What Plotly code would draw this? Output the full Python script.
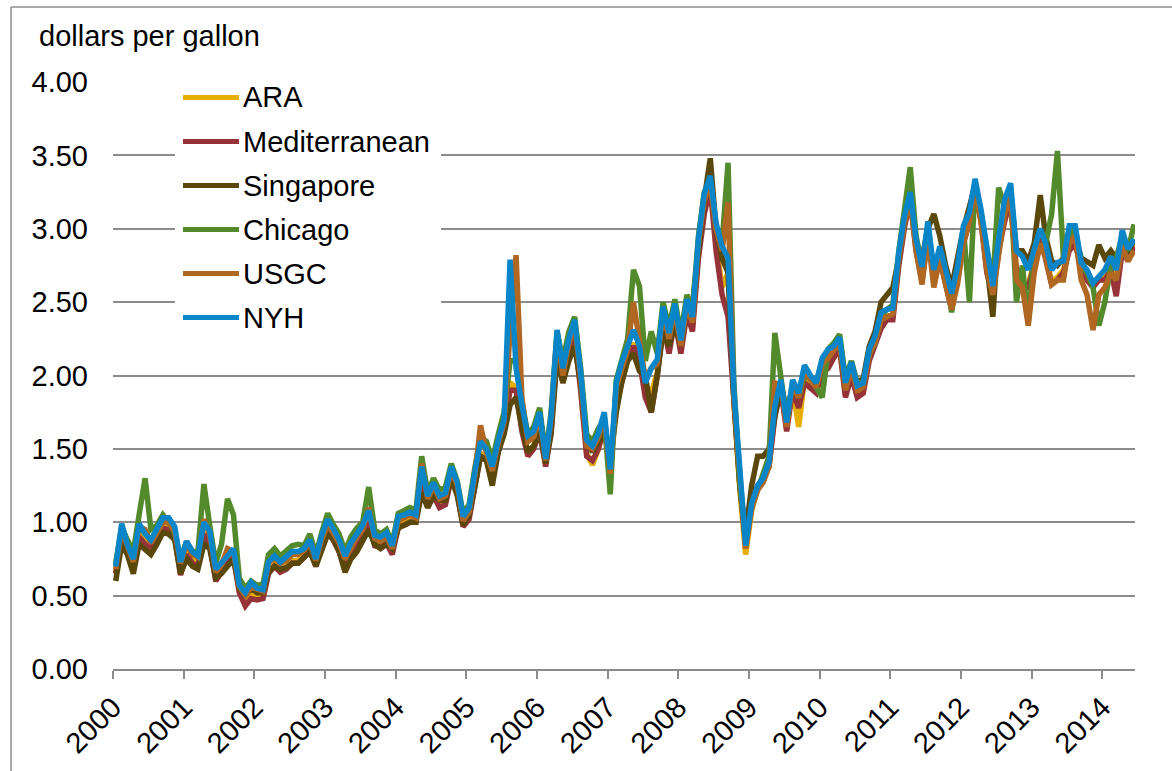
import pandas as pd
import plotly.graph_objects as go

# monthly readings, Jan 2000 - Jun 2014 (dollars per gallon)
months = pd.date_range("2000-01-01", periods=174, freq="MS") + pd.Timedelta(days=14)

ara = [
    0.66, 0.92, 0.82, 0.72, 0.93, 0.88, 0.84, 0.90, 0.98, 0.97, 0.92, 0.67,
    0.80, 0.74, 0.72, 0.95, 0.88, 0.62, 0.67, 0.74, 0.78, 0.54, 0.46, 0.52,
    0.50, 0.50, 0.68, 0.72, 0.68, 0.70, 0.74, 0.74, 0.78, 0.84, 0.72, 0.86,
    0.97, 0.90, 0.82, 0.70, 0.80, 0.86, 0.92, 1.02, 0.86, 0.85, 0.88, 0.80,
    0.99, 1.00, 1.02, 1.02, 1.30, 1.12, 1.20, 1.12, 1.14, 1.32, 1.22, 0.99,
    1.04, 1.27, 1.47, 1.44, 1.32, 1.50, 1.64, 1.95, 1.92, 1.65, 1.47, 1.52,
    1.64, 1.40, 1.64, 2.18, 1.98, 2.17, 2.27, 1.92, 1.47, 1.39, 1.50, 1.66,
    1.42, 1.82, 1.97, 2.14, 2.22, 2.12, 1.88, 1.88, 2.02, 2.37, 2.18, 2.40,
    2.18, 2.44, 2.33, 2.83, 3.18, 3.30, 2.90, 2.60, 2.70, 1.82, 1.22, 0.78,
    1.08, 1.23, 1.28, 1.38, 1.74, 1.92, 1.64, 1.92, 1.65, 1.97, 1.94, 1.90,
    2.04, 2.07, 2.14, 2.20, 1.87, 2.02, 1.88, 1.90, 2.12, 2.22, 2.34, 2.40,
    2.40, 2.77, 3.02, 3.22, 2.87, 2.67, 2.97, 2.67, 2.82, 2.64, 2.47, 2.67,
    2.92, 3.07, 3.27, 3.07, 2.72, 2.57, 2.87, 3.07, 3.22, 2.72, 2.62, 2.62,
    2.77, 2.97, 2.82, 2.64, 2.67, 2.72, 2.87, 2.92, 2.74, 2.67, 2.62, 2.67,
    2.67, 2.74, 2.62, 2.87, 2.80, 2.90,
]

mediterranean = [
    0.65, 0.90, 0.80, 0.70, 0.90, 0.85, 0.82, 0.88, 0.96, 0.95, 0.90, 0.64,
    0.78, 0.72, 0.70, 0.92, 0.85, 0.60, 0.66, 0.72, 0.76, 0.52, 0.43, 0.48,
    0.47, 0.48, 0.65, 0.70, 0.66, 0.68, 0.72, 0.72, 0.76, 0.82, 0.70, 0.85,
    0.95, 0.88, 0.80, 0.68, 0.78, 0.84, 0.90, 1.00, 0.84, 0.83, 0.86, 0.78,
    0.97, 0.98, 1.00, 1.00, 1.28, 1.10, 1.18, 1.10, 1.12, 1.30, 1.20, 0.97,
    1.02, 1.25, 1.45, 1.42, 1.30, 1.48, 1.62, 1.90, 1.90, 1.62, 1.45, 1.50,
    1.62, 1.38, 1.62, 2.15, 1.95, 2.15, 2.25, 1.90, 1.45, 1.42, 1.50, 1.65,
    1.40, 1.80, 1.95, 2.12, 2.20, 2.10, 1.85, 1.75, 2.00, 2.35, 2.15, 2.38,
    2.15, 2.42, 2.30, 2.80, 3.10, 3.28, 2.85, 2.55, 2.40, 1.80, 1.25, 0.85,
    1.10, 1.25, 1.30, 1.38, 1.72, 1.90, 1.62, 1.90, 1.78, 1.95, 1.92, 1.88,
    2.02, 2.05, 2.12, 2.18, 1.85, 2.00, 1.85, 1.88, 2.10, 2.20, 2.32, 2.38,
    2.38, 2.75, 3.00, 3.20, 2.85, 2.65, 2.95, 2.65, 2.80, 2.62, 2.45, 2.65,
    2.90, 3.05, 3.25, 3.05, 2.70, 2.55, 2.85, 3.05, 3.20, 2.70, 2.60, 2.60,
    2.75, 2.95, 2.80, 2.62, 2.65, 2.70, 2.85, 2.90, 2.72, 2.65, 2.60, 2.65,
    2.65, 2.72, 2.54, 2.85, 2.78, 2.88,
]

singapore = [
    0.60, 0.85, 0.78, 0.65, 0.85, 0.82, 0.78, 0.85, 0.93, 0.92, 0.88, 0.65,
    0.75, 0.70, 0.68, 0.85, 0.82, 0.62, 0.65, 0.70, 0.75, 0.55, 0.50, 0.55,
    0.52, 0.52, 0.66, 0.70, 0.68, 0.69, 0.72, 0.72, 0.76, 0.80, 0.70, 0.82,
    0.92, 0.88, 0.80, 0.66, 0.75, 0.80, 0.88, 0.95, 0.85, 0.82, 0.85, 0.82,
    0.96, 0.98, 1.00, 1.00, 1.20, 1.10, 1.18, 1.15, 1.15, 1.30, 1.18, 0.98,
    1.05, 1.25, 1.45, 1.42, 1.25, 1.48, 1.60, 1.80, 1.85, 1.65, 1.48, 1.52,
    1.62, 1.40, 1.60, 2.12, 1.95, 2.10, 2.20, 1.95, 1.55, 1.48, 1.55, 1.62,
    1.40, 1.75, 1.95, 2.10, 2.15, 2.03, 2.00, 1.75, 2.00, 2.30, 2.20, 2.35,
    2.20, 2.45, 2.48, 2.85, 3.20, 3.48, 3.00, 2.80, 2.70, 1.85, 1.25, 0.92,
    1.25, 1.45, 1.45, 1.50, 1.72, 1.95, 1.75, 1.92, 1.85, 2.00, 1.98, 1.95,
    2.10, 2.15, 2.18, 2.22, 1.92, 2.05, 1.95, 1.98, 2.20, 2.30, 2.50, 2.55,
    2.60, 2.80, 3.05, 3.20, 2.90, 2.80, 3.00, 3.10, 2.95, 2.75, 2.60, 2.80,
    3.00, 3.15, 3.30, 3.10, 2.75, 2.40, 3.00, 3.10, 3.25, 2.85, 2.85, 2.78,
    2.90, 3.23, 2.95, 2.78, 2.75, 2.80, 2.90, 2.95, 2.80, 2.78, 2.75, 2.89,
    2.80, 2.85, 2.80, 2.90, 2.85, 2.92,
]

chicago = [
    0.72, 0.97, 0.88, 0.80, 1.05, 1.30, 0.95, 0.98, 1.05, 1.00, 0.93, 0.75,
    0.87, 0.80, 0.80, 1.26, 0.98, 0.72, 0.85, 1.16, 1.05, 0.62, 0.55, 0.60,
    0.57, 0.58, 0.78, 0.82, 0.77, 0.80, 0.84, 0.85, 0.84, 0.92, 0.78, 0.93,
    1.06, 0.98, 0.92, 0.80, 0.90, 0.96, 1.00, 1.24, 0.95, 0.92, 0.95, 0.86,
    1.06, 1.08, 1.10, 1.08, 1.45, 1.20, 1.30, 1.22, 1.24, 1.40, 1.28, 1.06,
    1.12, 1.38, 1.58, 1.55, 1.42, 1.60, 1.75, 2.10, 2.10, 1.82, 1.60, 1.65,
    1.78, 1.45, 1.75, 2.30, 2.10, 2.30, 2.40, 2.05, 1.60, 1.55, 1.64, 1.70,
    1.19, 1.97, 2.10, 2.25, 2.72, 2.61, 2.10, 2.30, 2.15, 2.50, 2.33, 2.52,
    2.28, 2.55, 2.45, 2.95, 3.25, 3.33, 3.00, 2.90, 3.45, 1.95, 1.25, 0.88,
    1.10, 1.22, 1.35, 1.45, 2.29, 1.98, 1.70, 1.95, 1.85, 2.00, 1.98, 1.92,
    1.85, 2.18, 2.22, 2.28, 1.98, 2.10, 1.95, 1.95, 2.15, 2.22, 2.40, 2.45,
    2.48, 2.85, 3.10, 3.42, 2.95, 2.75, 3.02, 2.70, 2.85, 2.70, 2.43, 2.70,
    3.00, 2.50, 3.30, 3.10, 2.85, 2.62, 3.28, 3.15, 3.28, 2.50, 2.75, 2.36,
    2.85, 3.00, 2.90, 3.10, 3.53, 2.80, 2.95, 3.00, 2.75, 2.70, 2.60, 2.34,
    2.50, 2.75, 2.80, 2.95, 2.85, 3.03,
]

usgc = [
    0.68, 0.95, 0.84, 0.73, 0.97, 0.95, 0.86, 0.93, 1.00, 1.00, 0.94, 0.72,
    0.85, 0.78, 0.76, 1.02, 0.92, 0.66, 0.71, 0.82, 0.80, 0.56, 0.50, 0.56,
    0.54, 0.53, 0.72, 0.76, 0.72, 0.74, 0.78, 0.78, 0.81, 0.86, 0.74, 0.88,
    0.99, 0.93, 0.86, 0.75, 0.83, 0.90, 0.95, 1.10, 0.89, 0.87, 0.90, 0.82,
    1.01, 1.03, 1.05, 1.03, 1.40, 1.16, 1.25, 1.16, 1.18, 1.36, 1.25, 1.01,
    1.07, 1.33, 1.66, 1.47, 1.35, 1.54, 1.68, 2.30, 2.82, 1.85, 1.55, 1.58,
    1.72, 1.42, 1.70, 2.28, 2.00, 2.22, 2.35, 1.98, 1.52, 1.50, 1.58, 1.72,
    1.33, 1.92, 2.05, 2.18, 2.50, 2.25, 1.98, 2.05, 2.08, 2.44, 2.25, 2.45,
    2.20, 2.48, 2.36, 2.90, 3.20, 3.30, 3.00, 2.85, 3.18, 1.85, 1.28, 0.82,
    1.10, 1.22, 1.27, 1.38, 1.95, 1.94, 1.65, 1.94, 1.85, 2.03, 1.97, 1.92,
    2.08, 2.12, 2.17, 2.22, 1.90, 2.05, 1.90, 1.92, 2.14, 2.23, 2.38, 2.40,
    2.42, 2.80, 3.03, 3.20, 2.85, 2.62, 2.95, 2.60, 2.80, 2.62, 2.45, 2.62,
    2.90, 3.05, 3.28, 3.05, 2.72, 2.55, 2.85, 3.10, 3.22, 2.65, 2.60, 2.34,
    2.70, 2.90, 2.80, 2.62, 2.65, 2.65, 2.90, 2.95, 2.65, 2.55, 2.31, 2.55,
    2.60, 2.70, 2.65, 2.88, 2.78, 2.85,
]

nyh = [
    0.70, 0.99, 0.85, 0.75, 0.99, 0.92, 0.88, 0.95, 1.03, 1.03, 0.97, 0.73,
    0.87, 0.80, 0.77, 1.00, 0.94, 0.68, 0.72, 0.77, 0.82, 0.57, 0.52, 0.59,
    0.55, 0.54, 0.73, 0.77, 0.73, 0.76, 0.80, 0.80, 0.82, 0.88, 0.75, 0.91,
    1.02, 0.95, 0.88, 0.77, 0.86, 0.92, 0.98, 1.08, 0.91, 0.90, 0.93, 0.84,
    1.04, 1.05, 1.07, 1.05, 1.38, 1.18, 1.27, 1.18, 1.20, 1.38, 1.27, 1.04,
    1.10, 1.35, 1.55, 1.50, 1.38, 1.56, 1.70, 2.79, 2.05, 1.80, 1.59, 1.62,
    1.75, 1.43, 1.72, 2.31, 2.05, 2.25, 2.38, 2.02, 1.56, 1.52, 1.61, 1.75,
    1.36, 1.95, 2.09, 2.20, 2.31, 2.20, 1.95, 2.05, 2.11, 2.47, 2.29, 2.49,
    2.24, 2.52, 2.40, 2.93, 3.24, 3.36, 3.04, 2.88, 2.80, 1.90, 1.30, 0.84,
    1.13, 1.25, 1.30, 1.41, 1.79, 1.97, 1.68, 1.97, 1.88, 2.07, 2.00, 1.95,
    2.12, 2.18, 2.20, 2.26, 1.95, 2.09, 1.93, 1.95, 2.18, 2.27, 2.43, 2.45,
    2.46, 2.84, 3.08, 3.25, 2.93, 2.74, 3.05, 2.72, 2.88, 2.72, 2.56, 2.74,
    3.02, 3.11, 3.34, 3.13, 2.85, 2.61, 2.93, 3.20, 3.31, 2.85, 2.81, 2.72,
    2.86, 3.00, 2.90, 2.72, 2.77, 2.78, 3.02, 3.02, 2.77, 2.72, 2.63, 2.68,
    2.72, 2.81, 2.72, 2.99, 2.86, 2.93,
]

names = ["ARA", "Mediterranean", "Singapore", "Chicago", "USGC", "NYH"]
values = [ara, mediterranean, singapore, chicago, usgc, nyh]
colors = ["#E6AE00", "#953339", "#5A470B", "#528A2C", "#AF6722", "#0A85C7"]
year_labels = [str(y) for y in range(2000, 2015)]

# plot area in pixels: x 113..1135, y 82..669
L, R, T, B = 113, 1135, 82, 669
def px(x):
    return (x - L) / (R - L)
def py(y):
    return (B - y) / (B - T)

font = "Liberation Sans, Arial, sans-serif"
fig = go.Figure()
for name, vals, col in zip(names, values, colors):
    fig.add_trace(go.Scatter(x=months, y=vals, mode="lines", name=name,
                             line=dict(color=col, width=5.5), showlegend=False))

shapes = []
annotations = []
# legend drawn by hand (white box hides gridlines)
shapes.append(dict(type="rect", xref="paper", yref="paper", layer="above",
                   x0=px(175), x1=px(441), y0=py(335), y1=py(78),
                   fillcolor="white", line=dict(width=0)))
for k, (name, col) in enumerate(zip(names, colors)):
    yy = 97.5 + k * 44
    shapes.append(dict(type="line", xref="paper", yref="paper", layer="above",
                       x0=px(183), x1=px(239), y0=py(yy), y1=py(yy),
                       line=dict(color=col, width=5)))
    annotations.append(dict(xref="paper", yref="paper", x=px(241), y=py(yy),
                            text=name, showarrow=False, xanchor="left",
                            yanchor="middle", font=dict(size=29, color="black")))

# outer chart frame (left + top visible)
shapes.append(dict(type="line", xref="paper", yref="paper", x0=px(11), x1=px(11),
                   y0=py(7), y1=py(800), line=dict(color="#8c8c8c", width=1.5)))
shapes.append(dict(type="line", xref="paper", yref="paper", x0=px(11), x1=px(1200),
                   y0=py(7), y1=py(7), line=dict(color="#8c8c8c", width=1.5)))

annotations.append(dict(xref="paper", yref="paper", x=px(37), y=py(36),
                        text="dollars per gallon", showarrow=False, xanchor="left",
                        yanchor="middle", font=dict(size=29, color="black")))

fig.update_layout(
    width=1172, height=771,
    margin=dict(l=L, r=1172 - R, t=T, b=771 - B),
    paper_bgcolor="white", plot_bgcolor="white",
    font=dict(family=font, size=29, color="black"),
    shapes=shapes, annotations=annotations,
    xaxis=dict(type="date", range=["2000-01-01", "2014-06-20"],
               tickvals=[f"{y}-01-01" for y in year_labels], ticktext=year_labels,
               tickangle=-45, ticks="outside", ticklen=8, tickwidth=1.5,
               tickcolor="#8c8c8c", showline=True, linecolor="#8c8c8c",
               linewidth=1.5, showgrid=False, zeroline=False, automargin=False,
               tickfont=dict(size=29)),
    yaxis=dict(range=[0, 4], tickvals=[0, 0.5, 1, 1.5, 2, 2.5, 3, 3.5, 4],
               tickformat=".2f", showgrid=True, gridcolor="#8c8c8c", gridwidth=1.5,
               zeroline=False, showline=False, ticks="", ticklabelstandoff=24,
               automargin=False, tickfont=dict(size=29)),
)

# drop the page's default body margin so the figure sits at the window corner
fig.write_html("out.html", config={"displayModeBar": False},
               post_script="document.body.style.margin='0px';")
